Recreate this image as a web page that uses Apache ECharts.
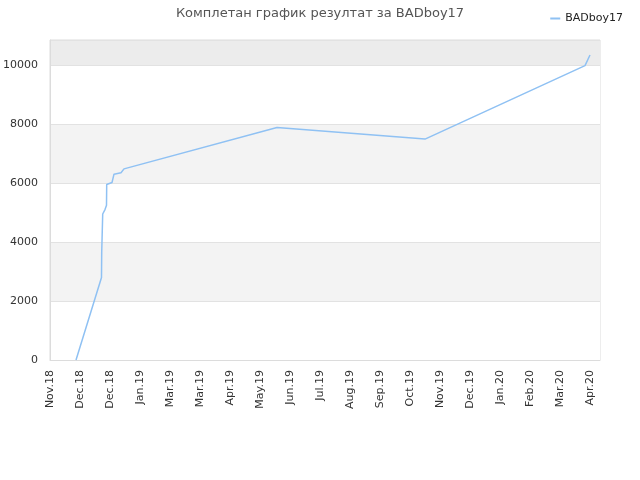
<!DOCTYPE html>
<html>
<head>
<meta charset="utf-8">
<script src="https://cdn.jsdelivr.net/npm/echarts@6/dist/echarts.min.js"></script>
<style>
  html, body { margin: 0; padding: 0; background: #fff; }
  #chartDiv { width: 640px; height: 480px; }
</style>
</head>
<body>
<div id="chartDiv"></div>
<script>
var titleText = "Комплетан график резултат за BADboy17";
var seriesName = "BADboy17";

// axis starts here, one tick every 30 days
var axisStart = "2018-11-01T00:00";
var tickDays = 30;
var axisDays = 550;
var tickLabels = ["Nov.18", "Dec.18", "Dec.18", "Jan.19", "Mar.19", "Mar.19", "Apr.19",
  "May.19", "Jun.19", "Jul.19", "Aug.19", "Sep.19", "Oct.19", "Nov.19", "Dec.19",
  "Jan.20", "Feb.20", "Mar.20", "Apr.20"];

var dates = ["2018-11-27T00:00", "2018-12-22T12:00", "2018-12-22T17:00", "2018-12-23T12:00",
  "2018-12-23T17:00", "2018-12-26T00:00", "2018-12-27T12:00", "2018-12-27T17:00",
  "2019-01-02T00:00", "2019-01-03T12:00", "2019-01-04T00:00", "2019-01-11T00:00",
  "2019-01-14T00:00", "2019-01-15T00:00", "2019-06-16T00:00", "2019-11-11T00:00",
  "2020-04-19T00:00", "2020-04-24T00:00"];
var scores = [0, 2800, 3650, 3700, 4950, 5100, 5250, 5950,
  6020, 6050, 6300, 6350, 6480, 6500, 7880, 7490, 9980, 10340];

var yMax = 10850;
var yStep = 2000;

var DAY = 86400000;
var t0 = Date.parse(axisStart + "Z");
function dayOf(s) {
  return (Date.parse(s + "Z") - t0) / DAY;
}

var points = [];
for (var i = 0; i < dates.length; i++) {
  points.push([dayOf(dates[i]), scores[i]]);
}

var myChart = echarts.init(document.getElementById("chartDiv"));

var option = {
  animation: false,
  textStyle: { fontFamily: "DejaVu Sans" },
  title: {
    text: titleText,
    left: "center",
    top: 2,
    textStyle: { fontSize: 13, fontWeight: "normal", color: "#555", fontFamily: "DejaVu Sans" }
  },
  legend: {
    data: [seriesName],
    right: 12,
    top: 8,
    icon: "rect",
    itemWidth: 10,
    itemHeight: 2,
    itemGap: 6,
    itemStyle: { color: "#8fc1f3" },
    textStyle: { fontSize: 11, color: "#222" }
  },
  grid: {
    left: 50,
    right: 40,
    top: 40,
    bottom: 120,
    show: true,
    borderColor: "#dcdcdc",
    borderWidth: 1,
    backgroundColor: "#fff"
  },
  xAxis: {
    type: "value",
    min: 0,
    max: axisDays,
    interval: tickDays,
    axisLine: { show: true, lineStyle: { color: "#dcdcdc" } },
    axisTick: { show: false },
    splitLine: { show: false },
    axisLabel: {
      rotate: 90,
      fontSize: 11,
      color: "#333",
      margin: 10,
      showMaxLabel: false,
      formatter: function (v) {
        var k = v / tickDays;
        if (Math.abs(k - Math.round(k)) > 1e-6) return "";
        return tickLabels[Math.round(k)] || "";
      }
    }
  },
  yAxis: {
    type: "value",
    min: 0,
    max: yMax,
    interval: yStep,
    axisLine: { show: true, lineStyle: { color: "#dcdcdc" } },
    axisTick: { show: false },
    axisLabel: {
      fontSize: 11,
      color: "#333",
      margin: 12,
      showMaxLabel: false,
      formatter: function (v) {
        return v % yStep === 0 ? String(v) : "";
      }
    },
    splitLine: { show: true, lineStyle: { color: "#e2e2e2" } },
    splitArea: {
      show: true,
      areaStyle: { color: ["#ffffff", "#f3f3f3", "#ffffff", "#f3f3f3", "#ffffff", "#ececec"] }
    }
  },
  series: [{
    name: seriesName,
    type: "line",
    data: points,
    showSymbol: false,
    symbol: "none",
    lineStyle: { color: "#8fc1f3", width: 1.5 },
    itemStyle: { color: "#8fc1f3" }
  }]
};

myChart.setOption(option);
</script>
</body>
</html>
